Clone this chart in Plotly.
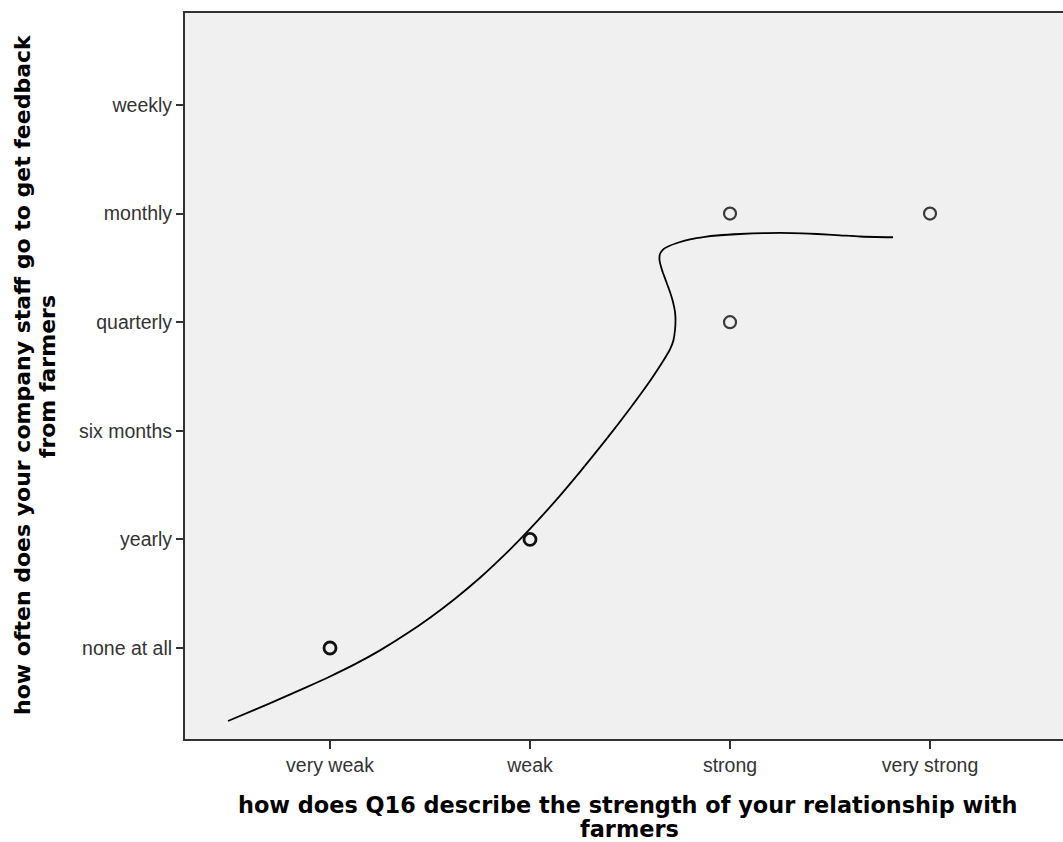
import plotly.graph_objects as go

# Category labels (coded 1..n on each axis)
strength_labels = ["very weak", "weak", "strong", "very strong"]
frequency_labels = ["none at all", "yearly", "six months", "quarterly", "monthly", "weekly"]

# Observed cases: relationship strength code, feedback frequency code, number of cases
obs_strength = [1, 2, 3, 3, 4]
obs_frequency = [1, 2, 5, 4, 5]
obs_count = [2, 2, 1, 1, 1]

# Loess fit line
fit_x = [0.49, 0.625, 0.75, 0.875, 1.0, 1.125, 1.25, 1.375, 1.5, 1.625, 1.75, 1.875,
         2.0, 2.125, 2.25, 2.375, 2.5, 2.6, 2.64, 2.675, 2.7, 2.7175, 2.725, 2.7275,
         2.725, 2.715, 2.7, 2.68, 2.66, 2.6475, 2.65, 2.665, 2.69, 2.735, 2.8, 2.875,
         2.935, 3.05, 3.185, 3.31, 3.435, 3.55, 3.65, 3.815]
fit_y = [0.328, 0.432, 0.531, 0.633, 0.738, 0.851, 0.978, 1.121, 1.279, 1.454, 1.647, 1.862,
         2.097, 2.350, 2.622, 2.907, 3.206, 3.459, 3.569, 3.670, 3.749, 3.836, 3.928, 4.020,
         4.094, 4.186, 4.278, 4.379, 4.481, 4.573, 4.628, 4.669, 4.697, 4.729, 4.763, 4.786,
         4.798, 4.812, 4.821, 4.821, 4.812, 4.800, 4.789, 4.782]

marker_line_width = [2.8 if c > 1 else 2.2 for c in obs_count]
marker_line_color = ["#111111" if c > 1 else "#3a3a3a" for c in obs_count]

fig = go.Figure()
fig.add_trace(go.Scatter(
    x=fit_x, y=fit_y, mode="lines",
    line=dict(color="#000000", width=1.8, shape="spline", smoothing=0.6, simplify=False),
    hoverinfo="skip", showlegend=False,
))
fig.add_trace(go.Scatter(
    x=obs_strength, y=obs_frequency, mode="markers",
    marker=dict(symbol="circle-open", size=12,
                line=dict(width=marker_line_width, color=marker_line_color),
                color=marker_line_color),
    showlegend=False,
))

tick_font = dict(family="Liberation Sans, Arial, sans-serif", size=19.5, color="#333333")
x_title_font = dict(family="DejaVu Sans, Verdana, sans-serif", size=22.4, color="#000000")
y_title_font = dict(family="DejaVu Sans, Verdana, sans-serif", size=22, color="#000000")

title_lines = [
    # text, x, y, textangle, font
    ("how does Q16 describe the strength of your relationship with", 0.5051, -0.0909, 0, x_title_font),
    ("farmers", 0.5068, -0.124, 0, x_title_font),
    ("how often does your company staff go to get feedback", -0.1845, 0.5014, -90, y_title_font),
    ("from farmers", -0.157, 0.4986, -90, y_title_font),
]

fig.update_layout(
    width=1063, height=842,
    margin=dict(l=185, r=0, t=13, b=103),
    paper_bgcolor="white",
    plot_bgcolor="#f0f0f0",
    xaxis=dict(
        range=[0.275, 4.665],
        tickmode="array",
        tickvals=list(range(1, len(strength_labels) + 1)),
        ticktext=strength_labels,
        ticks="outside", ticklen=8, tickwidth=2, tickcolor="#333333",
        showline=True, linewidth=2, linecolor="#333333", mirror=True,
        showgrid=False, zeroline=False,
        tickfont=tick_font,
    ),
    yaxis=dict(
        range=[0.162, 6.847],
        tickmode="array",
        tickvals=list(range(1, len(frequency_labels) + 1)),
        ticktext=frequency_labels,
        ticks="outside", ticklen=7, tickwidth=2, tickcolor="#333333",
        showline=True, linewidth=2, linecolor="#333333",
        showgrid=False, zeroline=False,
        tickfont=tick_font,
    ),
    annotations=[
        dict(text=f"<b>{t}</b>", xref="paper", yref="paper", x=x, y=y,
             xanchor="center", yanchor="middle", showarrow=False,
             textangle=a, font=f)
        for t, x, y, a, f in title_lines
    ],
)

fig.write_html("out.html")
